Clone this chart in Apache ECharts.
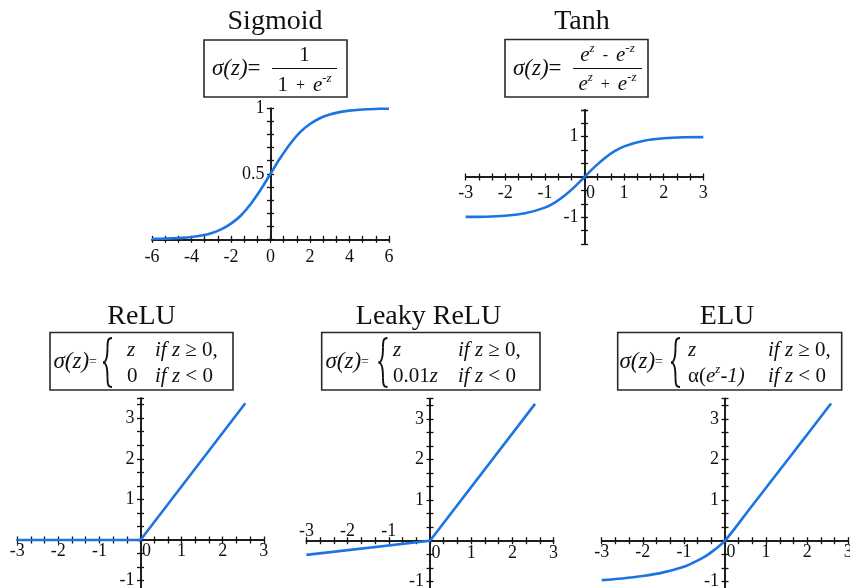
<!DOCTYPE html>
<html><head><meta charset="utf-8">
<script src="https://cdn.jsdelivr.net/npm/echarts@6/dist/echarts.min.js"></script>
<style>html,body{margin:0;padding:0;background:#fff}#c{width:850px;height:588px}</style>
</head><body><div id="c"></div>
<script>
// ---------- data ----------
const sigmoidZ = [-6,-5.5,-5,-4.5,-4,-3.5,-3,-2.5,-2,-1.5,-1,-0.5,0,0.5,1,1.5,2,2.5,3,3.5,4,4.5,5,5.5,6];
const sigmoidY = [0.003,0.004,0.007,0.011,0.018,0.029,0.047,0.076,0.12,0.182,0.27,0.378,0.5,0.622,0.73,0.818,0.88,0.924,0.953,0.971,0.982,0.989,0.993,0.996,0.997];
const tanhZ = [-3,-2.5,-2,-1.5,-1,-0.75,-0.5,-0.25,0,0.25,0.5,0.75,1,1.5,2,2.5,3];
const tanhY = [-0.99,-0.985,-0.96,-0.9,-0.76,-0.635,-0.46,-0.245,0,0.245,0.46,0.635,0.76,0.9,0.96,0.985,0.99];
const reluZ = [-3,0,2.55];
const reluY = [0,0,3.37];
const leakyZ = [-3,0,2.55];
const leakyY = [-0.35,0,3.37];
const eluZ = [-3,-2.5,-2,-1.5,-1,-0.75,-0.5,-0.25,0,0.65,1.3,1.95,2.58];
const eluY = [-0.97,-0.93,-0.87,-0.78,-0.64,-0.53,-0.4,-0.22,0,0.85,1.7,2.55,3.38];

// tick labels
const sigmoidXTicks = [-6,-4,-2,0,2,4,6];
const sigmoidYTicks = [0.5,1];
const tanhXTicks = [-3,-2,-1,0,1,2,3];
const tanhYTicks = [-1,1];
const reluXTicks = [-3,-2,-1,0,1,2,3];
const reluYTicks = [-1,1,2,3];
const leakyXTicksBelow = [0,1,2,3];
const leakyXTicksAbove = [-3,-2,-1];
const leakyYTicks = [-1,1,2,3];
const eluXTicks = [-3,-2,-1,0,1,2,3];
const eluYTicks = [-1,1,2,3];

// ---------- layout / style ----------
const F = '"Liberation Serif","Times New Roman",serif';
const BLUE = '#1c74e2';
const INK = '#111';

const panels = [
  {z:sigmoidZ, y:sigmoidY, xT:sigmoidXTicks, yT:sigmoidYTicks, xr:[-6,6], yr:[0,1], xi:2/3, yi:0.1,
   smooth:true, shift:false, cx:270.5, cy:239.3, sx:19.75, sy:131, xm:8.5},
  {z:tanhZ, y:tanhY, xT:tanhXTicks, yT:tanhYTicks, xr:[-3,3], yr:[-5/3,5/3], xi:1/3, yi:1/3,
   smooth:true, shift:true, cx:584.5, cy:177, sx:39.6, sy:40.3, xm:7.5},
  {z:reluZ, y:reluY, xT:reluXTicks, yT:reluYTicks, xr:[-3,3], yr:[-4/3,3.5], xi:1/3, yi:1/3,
   smooth:false, shift:true, cx:140.5, cy:540, sx:41.1, sy:40.6, xm:2.5},
  {z:leakyZ, y:leakyY, xT:leakyXTicksBelow, xTop:leakyXTicksAbove, yT:leakyYTicks, xr:[-3,3], yr:[-4/3,3.5], xi:1/3, yi:1/3,
   smooth:false, shift:true, cx:430, cy:540.7, sx:41.2, sy:40.6, xm:4, tm:0},
  {z:eluZ, y:eluY, xT:eluXTicks, yT:eluYTicks, xr:[-3,3], yr:[-4/3,3.5], xi:1/3, yi:1/3,
   smooth:true, shift:true, cx:725, cy:540.7, sx:41.1, sy:40.6, xm:2.5}
];

function fmt(list, shift) {
  return function (v) {
    for (const t of list) {
      if (Math.abs(v - t) < 1e-6) {
        if (t === 0 && shift) return '{z|0}';
        return String(t);
      }
    }
    return '';
  };
}

const grids = [], xAxes = [], yAxes = [], series = [];
const hidden = (g) => ({type: 'value', gridIndex: g, show: false, min: 0, max: 1});
panels.forEach((p, i) => {
  const left = p.cx + p.xr[0] * p.sx, top = p.cy - p.yr[1] * p.sy;
  const width = (p.xr[1] - p.xr[0]) * p.sx, height = (p.yr[1] - p.yr[0]) * p.sy;
  const g0 = 3 * i;
  // main plotting grid
  grids.push({left: left, top: top, width: width, height: height, containLabel: false, outerBoundsMode: 'none'});
  // x-axis strip: bottom edge at the zero line
  grids.push({left: left, top: p.cy - 10, width: width, height: 10, containLabel: false, outerBoundsMode: 'none'});
  // y-axis strip: left edge at the zero line
  grids.push({left: p.cx, top: top, width: 10, height: height, containLabel: false, outerBoundsMode: 'none'});

  const labBase = {fontFamily: F, fontSize: 18, color: INK, showMinLabel: true, showMaxLabel: true,
    rich: {z: {fontFamily: F, fontSize: 18, color: INK, padding: [0, 0, 0, 12]}}};
  const line = {show: true, onZero: false, lineStyle: {color: INK, width: 1.5}};
  const tick = (inside) => ({show: true, inside: inside, length: 3.5, lineStyle: {color: INK, width: 1.3}});

  // x axes: [main hidden, strip outside, strip inside, dummy for y strip]
  const xr = {min: p.xr[0], max: p.xr[1]};
  xAxes.push(Object.assign({type: 'value', gridIndex: g0, show: false}, xr));
  const bx = Object.assign({type: 'value', gridIndex: g0 + 1, interval: p.xi, position: 'bottom',
    splitLine: {show: false}}, xr);
  xAxes.push(Object.assign({}, bx, {axisLine: line, axisTick: tick(false),
    axisLabel: Object.assign({}, labBase, {margin: p.xm, formatter: fmt(p.xT, p.shift)})}));
  xAxes.push(Object.assign({}, bx, {axisLine: line, axisTick: tick(true),
    axisLabel: p.xTop ? Object.assign({}, labBase, {inside: true, margin: p.tm, formatter: fmt(p.xTop, false)}) : {show: false}}));
  xAxes.push(hidden(g0 + 2));

  // y axes: [main hidden, dummy for x strip, strip outside, strip inside]
  const yr = {min: p.yr[0], max: p.yr[1]};
  yAxes.push(Object.assign({type: 'value', gridIndex: g0, show: false}, yr));
  yAxes.push(hidden(g0 + 1));
  const by = Object.assign({type: 'value', gridIndex: g0 + 2, interval: p.yi, position: 'left',
    splitLine: {show: false}}, yr);
  yAxes.push(Object.assign({}, by, {axisLine: line, axisTick: tick(false),
    axisLabel: Object.assign({}, labBase, {margin: 6, formatter: fmt(p.yT, false)})}));
  yAxes.push(Object.assign({}, by, {axisLine: line, axisTick: tick(true), axisLabel: {show: false}}));

  series.push({
    type: 'line', xAxisIndex: 4 * i, yAxisIndex: 4 * i,
    data: p.z.map((z, k) => [z, p.y[k]]),
    showSymbol: false, symbol: 'none', smooth: p.smooth ? 0.35 : false,
    clip: false, silent: true, z: 5,
    lineStyle: {color: BLUE, width: 2.6}
  });
});

// ---------- titles and formula boxes ----------
const G = [];
function text(x, y, t, opt) {
  opt = opt || {};
  G.push({type: 'text', silent: true, z: 20, style: {
    x: x, y: y, text: t, fill: INK,
    font: (opt.italic ? 'italic ' : '') + (opt.size || 21) + 'px ' + F,
    align: opt.align || 'left', verticalAlign: 'middle',
    textAlign: opt.align || 'left', textVerticalAlign: 'middle',
    rich: opt.rich
  }});
}
function rich(sz) {
  sz = sz || 21;
  return {
    i: {fontFamily: F, fontStyle: 'italic', fontSize: sz, lineHeight: 26, fill: INK},
    n: {fontFamily: F, fontSize: sz, lineHeight: 26, fill: INK},
    p: {fontFamily: F, fontSize: 16, lineHeight: 26, fill: INK},
    e: {fontFamily: F, fontSize: 14, lineHeight: 26, fill: INK},
    s: {fontFamily: F, fontStyle: 'italic', fontSize: 13, lineHeight: 13, verticalAlign: 'top', fill: INK}
  };
}
function box(x, y, w, h) {
  G.push({type: 'rect', silent: true, z: 20, shape: {x: x, y: y, width: w, height: h},
    style: {fill: 'none', stroke: '#2a2a2a', lineWidth: 1.6}});
}
function hline(x1, x2, y) {
  G.push({type: 'line', silent: true, z: 20, shape: {x1: x1, y1: y, x2: x2, y2: y},
    style: {stroke: INK, lineWidth: 1.1}});
}
function brace(x, y, w, h) {
  const xm = x + w / 2, mid = y + h / 2;
  const segs = [
    [x + w, y, xm, y + h * 0.2, xm + 0.5, y, xm, y + h * 0.05],
    [xm, y + h * 0.2, x, mid, xm, y + h * 0.42, x + w * 0.35, mid],
    [x, mid, xm, y + h * 0.8, x + w * 0.35, mid, xm, y + h * 0.58],
    [xm, y + h * 0.8, x + w, y + h, xm, y + h * 0.95, xm + 0.5, y + h]
  ];
  segs.forEach(s => G.push({type: 'bezierCurve', silent: true, z: 20,
    shape: {x1: s[0], y1: s[1], x2: s[2], y2: s[3], cpx1: s[4], cpy1: s[5], cpx2: s[6], cpy2: s[7]},
    style: {stroke: INK, lineWidth: 1.9, fill: 'none'}}));
}

// titles
text(275, 21.5, 'Sigmoid', {size: 28, align: 'center'});
text(582, 21.5, 'Tanh', {size: 28, align: 'center'});
text(141.5, 317, 'ReLU', {size: 28, align: 'center'});
text(428.5, 316.5, 'Leaky ReLU', {size: 28, align: 'center'});
text(727, 317, 'ELU', {size: 28, align: 'center'});

// Sigmoid formula
box(204, 40, 143, 57);
text(212, 69, '{i|σ(z)}{n|=}', {rich: rich(23)});
hline(272, 337, 68.5);
text(304.5, 55.5, '{n|1}', {align: 'center', rich: rich(21)});
text(304.5, 85.5, '{n|1}{p|  +  }{i|e}{s|-z}', {align: 'center', rich: rich(21)});

// Tanh formula
box(505, 39.5, 143, 57.5);
text(513, 69, '{i|σ(z)}{n|=}', {rich: rich(23)});
hline(573, 642, 68.5);
text(607.5, 55.5, '{i|e}{s|z}{p|  -  }{i|e}{s|-z}', {align: 'center', rich: rich(21)});
text(607.5, 84.5, '{i|e}{s|z}{p|  +  }{i|e}{s|-z}', {align: 'center', rich: rich(21)});

// ReLU formula
box(50, 332.5, 183, 57.5);
text(53.5, 362, '{i|σ(z)}{e|=}', {rich: rich(23)});
brace(103, 338, 9, 49);
text(127, 350.5, '{i|z}', {rich: rich(21)});
text(155, 350.5, '{i|if z }{n|≥ 0,}', {rich: rich(21)});
text(127, 376.5, '{n|0}', {rich: rich(21)});
text(155, 376.5, '{i|if z }{n|< 0}', {rich: rich(21)});

// Leaky ReLU formula
box(321.7, 332.5, 218.3, 57.5);
text(325.5, 362, '{i|σ(z)}{e|=}', {rich: rich(23)});
brace(378.5, 338, 9, 49);
text(393, 350.5, '{i|z}', {rich: rich(21)});
text(458, 350.5, '{i|if z }{n|≥ 0,}', {rich: rich(21)});
text(393, 376.5, '{n|0.01}{i|z}', {rich: rich(21)});
text(458, 376.5, '{i|if z }{n|< 0}', {rich: rich(21)});

// ELU formula
box(617.7, 332.5, 224, 57.5);
text(619.5, 362, '{i|σ(z)}{e|=}', {rich: rich(23)});
brace(671, 338, 9, 49);
text(688, 350.5, '{i|z}', {rich: rich(21)});
text(768, 350.5, '{i|if z }{n|≥ 0,}', {rich: rich(21)});
text(688, 376.5, '{n|α(}{i|e}{s|z}{i|-1)}', {rich: rich(21)});
text(768, 376.5, '{i|if z }{n|< 0}', {rich: rich(21)});

const chart = echarts.init(document.getElementById('c'), null, {renderer: 'canvas'});
chart.setOption({
  animation: false,
  backgroundColor: '#fff',
  grid: grids,
  xAxis: xAxes,
  yAxis: yAxes,
  series: series,
  graphic: {elements: G}
});
</script>
</body></html>
